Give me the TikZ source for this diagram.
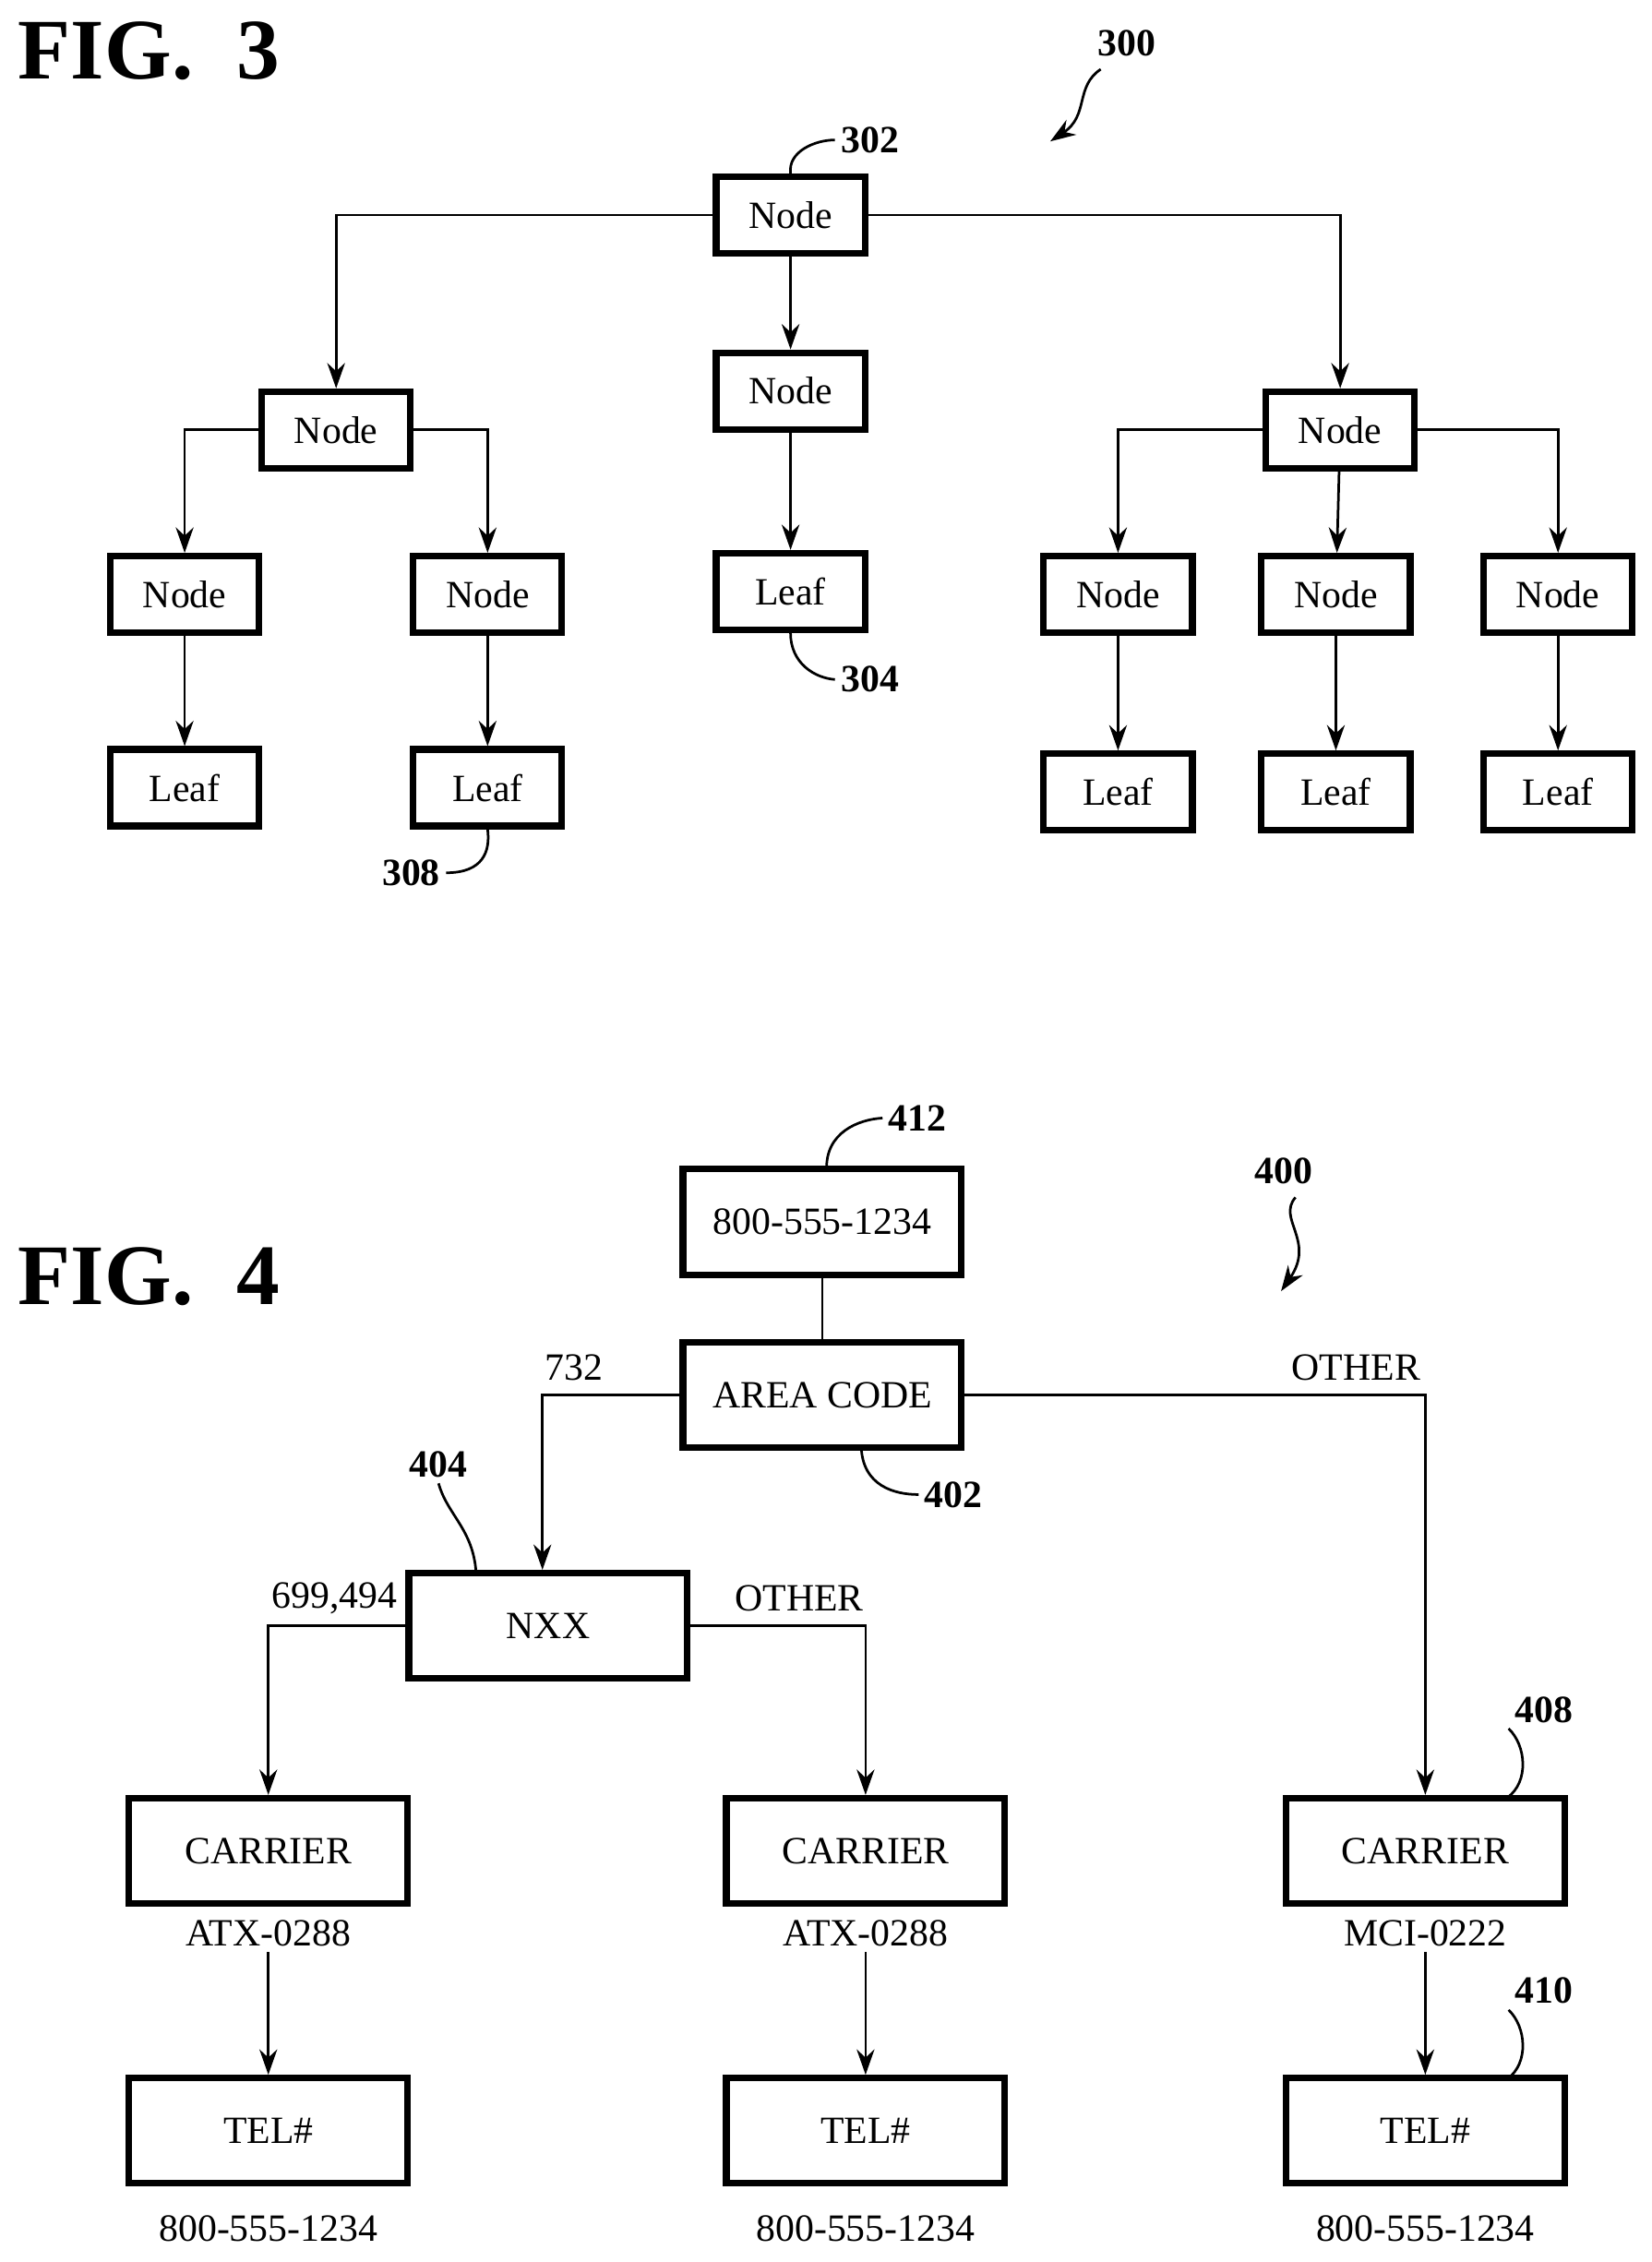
\documentclass[tikz,border=0pt]{standalone}
\usepackage{fontspec}
\setmainfont{Liberation Serif}
\usetikzlibrary{arrows.meta}
\begin{document}
\begin{tikzpicture}[x=0.01cm,y=-0.01cm,
 bx/.style={draw,line width=1.3pt,inner sep=0pt,font=\fontsize{7.6}{9}\selectfont},
 nd/.style={bx,minimum width=1.03cm,minimum height=0.53cm},
 bb/.style={bx,minimum width=1.93cm,minimum height=0.73cm},
 ln/.style={line width=0.5pt},
 ar/.style={ln,-{Stealth[length=5pt,width=3.5pt]}},
 lb/.style={font=\bfseries\fontsize{7.6}{9}\selectfont,inner sep=1pt},
 tx/.style={font=\fontsize{7.6}{9}\selectfont,inner sep=1pt},
 fig/.style={font=\bfseries\fontsize{17}{20}\selectfont,inner sep=0pt}]
\useasboundingbox (0,0) rectangle (1145,1568);
% FIG 3
\node[fig,anchor=west] (f3) at (12,35) {FIG.\ \ 3};
\node[lb] (l300) at (781,30) {300};
\coordinate (a300) at (728,98);
\draw[ar] (763,48) .. controls (745,60) and (755,80) .. (a300);
\node[nd] (t) at (548,149) {Node};
\node[nd] (m) at (548,271) {Node};
\node[nd] (ml) at (548,410) {Leaf};
\node[nd] (L) at (233,298) {Node};
\node[nd] (R) at (929,298) {Node};
\node[nd] (L1) at (128,412) {Node};
\node[nd] (L2) at (338,412) {Node};
\node[nd] (L1l) at (128,546) {Leaf};
\node[nd] (L2l) at (338,546) {Leaf};
\node[nd] (R1) at (775,412) {Node};
\node[nd] (R2) at (926,412) {Node};
\node[nd] (R3) at (1080,412) {Node};
\node[nd] (R1l) at (775,549) {Leaf};
\node[nd] (R2l) at (926,549) {Leaf};
\node[nd] (R3l) at (1080,549) {Leaf};
\draw[ar] (t.west) -| (L.north);
\draw[ar] (t.east) -| (R.north);
\draw[ar] (t) -- (m);
\draw[ar] (m) -- (ml);
\draw[ar] (L.west) -| (L1.north);
\draw[ar] (L.east) -| (L2.north);
\draw[ar] (L1) -- (L1l);
\draw[ar] (L2) -- (L2l);
\draw[ar] (R.west) -| (R1.north);
\draw[ar] (R) -- (R2);
\draw[ar] (R.east) -| (R3.north);
\draw[ar] (R1) -- (R1l);
\draw[ar] (R2) -- (R2l);
\draw[ar] (R3) -- (R3l);
\node[lb] (l302) at (603,97) {302};
\draw[ln] (t.north) .. controls (546,105) and (565,97) .. (l302.west);
\node[lb] (l304) at (603,471) {304};
\draw[ln] (ml.south) .. controls (548,460) and (565,470) .. (l304.west);
\node[lb] (l308) at (285,605) {308};
\draw[ln] (l308.east) .. controls (335,605) and (340,590) .. (L2l.south);
% FIG 4
\node[fig,anchor=west] (f4) at (12,885) {FIG.\ \ 4};
\node[bb] (n412) at (570,847) {800-555-1234};
\node[bb] (ac) at (570,967) {AREA CODE};
\node[bb] (nxx) at (380,1127) {NXX};
\node[bb] (c1) at (186,1283) {CARRIER};
\node[bb] (c2) at (600,1283) {CARRIER};
\node[bb] (c3) at (988,1283) {CARRIER};
\node[bb] (t1) at (186,1477) {TEL\#};
\node[bb] (t2) at (600,1477) {TEL\#};
\node[bb] (t3) at (988,1477) {TEL\#};
\draw[ln] (n412) -- (ac);
\draw[ar] (ac.west) -| (nxx.north -| 376,0) coordinate[pos=1] (nxtop);
\draw[ar] (ac.east) -| (c3.north);
\draw[ar] (nxx.west) -| (c1.north);
\draw[ar] (nxx.east) -| (c2.north);
\node[tx] (k732) at (398,948) {732};
\node[tx] (kot1) at (940,948) {OTHER};
\node[tx] (k699) at (232,1108) {699,494};
\node[tx] (kot2) at (554,1108) {OTHER};
\node[tx] (s1) at (186,1340) {ATX-0288};
\node[tx] (s2) at (600,1340) {ATX-0288};
\node[tx] (s3) at (988,1340) {MCI-0222};
\draw[ar] (s1) -- (t1);
\draw[ar] (s2) -- (t2);
\draw[ar] (s3) -- (t3);
\node[tx] (b1) at (186,1545) {800-555-1234};
\node[tx] (b2) at (600,1545) {800-555-1234};
\node[tx] (b3) at (988,1545) {800-555-1234};
\node[lb] (l412) at (636,775) {412};
\draw[ln] (573,811) .. controls (572,785) and (595,776) .. (l412.west);
\node[lb] (l400) at (890,812) {400};
\coordinate (a400) at (888,895);
\draw[ar] (898,830) .. controls (885,845) and (912,860) .. (a400);
\node[lb] (l402) at (661,1036) {402};
\draw[ln] (597,1003) .. controls (598,1030) and (620,1036) .. (l402.west);
\node[lb] (l404) at (304,1015) {404};
\draw[ln] (l404.south) .. controls (310,1050) and (328,1060) .. (330,1090);
\node[lb] (l408) at (1070,1185) {408};
\draw[ln] (1045,1246) .. controls (1060,1235) and (1058,1210) .. (l408.south west);
\node[lb] (l410) at (1070,1380) {410};
\draw[ln] (1045,1441) .. controls (1060,1430) and (1058,1405) .. (l410.south west);
\end{tikzpicture}
\end{document}
